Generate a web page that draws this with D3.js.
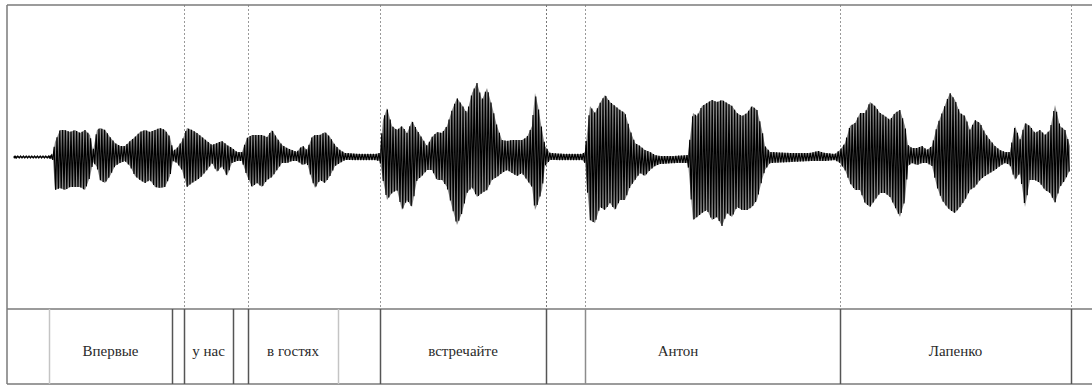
<!DOCTYPE html>
<html>
<head>
<meta charset="utf-8">
<script src="https://cdn.jsdelivr.net/npm/d3@7"></script>
<style>
  body { margin: 0; background: #fff; }
  svg { display: block; }
</style>
</head>
<body>
<div id="chart"></div>
<script>
// waveform envelope (time in s, amplitude in arbitrary units)
const envTime = [
  0.035, 0.21, 0.225, 0.235, 0.26, 0.285, 0.31, 0.335, 0.36, 0.385, 0.41, 0.425, 0.445, 0.46, 0.485,
  0.51, 0.535, 0.56, 0.585, 0.61, 0.635, 0.66, 0.685, 0.71, 0.735, 0.76, 0.785, 0.81, 0.825, 0.845,
  0.87, 0.895, 0.92, 0.945, 0.97, 0.995, 1.02, 1.045, 1.07, 1.095, 1.12, 1.145, 1.17, 1.195, 1.22,
  1.245, 1.27, 1.295, 1.32, 1.345, 1.37, 1.395, 1.42, 1.445, 1.46, 1.475, 1.495, 1.52, 1.535, 1.56,
  1.585, 1.61, 1.635, 1.66, 1.685, 1.76, 1.835, 1.86, 1.875, 1.895, 1.92, 1.945, 1.97, 1.995, 2.02,
  2.045, 2.07, 2.095, 2.12, 2.145, 2.17, 2.195, 2.22, 2.245, 2.27, 2.295, 2.32, 2.345, 2.37, 2.395,
  2.42, 2.445, 2.47, 2.495, 2.52, 2.545, 2.57, 2.595, 2.62, 2.635, 2.65, 2.67, 2.685, 2.71, 2.785,
  2.87, 2.885, 2.91, 2.935, 2.96, 2.985, 3.01, 3.035, 3.06, 3.085, 3.11, 3.135, 3.16, 3.185, 3.21,
  3.235, 3.26, 3.335, 3.4, 3.425, 3.445, 3.47, 3.495, 3.52, 3.545, 3.57, 3.595, 3.62, 3.645, 3.67,
  3.695, 3.72, 3.745, 3.77, 3.785, 3.81, 3.91, 4.01, 4.05, 4.085, 4.135, 4.16, 4.185, 4.21, 4.235,
  4.26, 4.285, 4.31, 4.335, 4.36, 4.385, 4.41, 4.435, 4.46, 4.485, 4.5, 4.52, 4.545, 4.57, 4.595,
  4.62, 4.645, 4.67, 4.695, 4.71, 4.735, 4.76, 4.785, 4.81, 4.835, 4.86, 4.885, 4.91, 4.935, 4.96,
  4.985, 5.01, 5.035, 5.06, 5.085, 5.11, 5.135, 5.16, 5.185, 5.21, 5.235, 5.26, 5.285, 5.31
];
const envUpper = [
  1, 1, 3, 15, 27, 27, 25, 27, 24, 27, 22, 6, 27, 29, 27,
  20, 14, 11, 11, 16, 20, 25, 27, 25, 27, 29, 27, 20, 6, 9,
  16, 29, 27, 24, 20, 16, 12, 14, 16, 12, 9, 5, 5, 19, 22,
  22, 22, 20, 27, 19, 12, 9, 7, 5, 9, 11, 7, 20, 22, 22,
  25, 20, 12, 7, 4, 3, 3, 4, 37, 49, 31, 27, 31, 24, 36,
  27, 19, 11, 20, 25, 24, 31, 47, 59, 52, 44, 64, 74, 57, 69,
  51, 31, 17, 16, 17, 17, 17, 20, 31, 64, 51, 27, 11, 4, 3,
  3, 5, 51, 44, 54, 62, 55, 51, 47, 44, 27, 14, 11, 7, 5,
  2, 1, 1, 2, 44, 41, 51, 54, 57, 55, 57, 54, 51, 44, 41,
  44, 51, 47, 27, 11, 5, 4, 4, 6, 4, 3, 7, 14, 31, 34,
  44, 44, 55, 51, 44, 41, 37, 44, 47, 31, 12, 9, 9, 11, 7,
  11, 31, 44, 57, 64, 57, 44, 41, 27, 37, 34, 24, 17, 11, 7,
  5, 5, 31, 17, 34, 31, 24, 27, 22, 27, 52, 31, 27, 11
];
const envLower = [
  1, 1, 3, 33, 31, 33, 30, 30, 30, 33, 20, 5, 10, 23, 26,
  19, 9, 6, 4, 9, 19, 23, 26, 23, 30, 31, 30, 19, 4, 6,
  13, 30, 26, 23, 19, 13, 6, 15, 9, 19, 6, 4, 4, 19, 30,
  26, 30, 23, 20, 13, 6, 6, 4, 4, 6, 8, 6, 23, 31, 23,
  26, 19, 9, 6, 3, 3, 3, 4, 23, 43, 36, 33, 53, 43, 50,
  23, 19, 13, 13, 23, 23, 30, 50, 68, 56, 36, 30, 40, 36, 33,
  23, 20, 16, 13, 16, 19, 16, 23, 30, 53, 46, 33, 9, 3, 3,
  3, 6, 63, 66, 50, 53, 46, 53, 43, 43, 30, 23, 16, 19, 13,
  9, 7, 6, 6, 63, 60, 56, 53, 63, 60, 69, 56, 60, 50, 53,
  53, 50, 43, 23, 13, 6, 5, 4, 4, 4, 3, 6, 13, 26, 33,
  33, 46, 50, 43, 36, 36, 40, 50, 60, 43, 9, 6, 8, 6, 6,
  9, 30, 43, 50, 53, 56, 50, 43, 33, 30, 23, 19, 16, 13, 9,
  6, 8, 23, 16, 50, 23, 23, 26, 33, 36, 46, 30, 23, 13
];

// annotation tier
const tierBounds = [0.205, 0.82, 0.88, 1.125, 1.20, 1.65, 1.86, 2.69, 2.885, 4.16, 5.315];
const tierBoundTone = ["light", "dark", "dark", "dark", "dark", "light", "dark", "dark", "mid", "dark", "dark"];
const dashedBounds = [0.88, 1.20, 1.86, 2.69, 2.885, 4.16, 5.315];
const words = ["Впервые", "у нас", "в гостях", "встречайте", "Антон", "Лапенко"];
const wordTimes = [0.5125, 1.0025, 1.425, 2.275, 3.35, 4.7375];

const width = 1092, height = 385;
const frameLeft = 7, frameTop = 5, waveBottom = 309, frameBottom = 384;

const svg = d3.select("#chart").append("svg")
  .attr("width", width)
  .attr("height", height);

const x = d3.scaleLinear().domain([0, 5.395]).range([8, 1087]);
const y = d3.scaleLinear().domain([-152, 152]).range([waveBottom, frameTop]);

// dashed boundaries in the waveform panel
svg.append("g")
  .selectAll("line")
  .data(dashedBounds)
  .join("line")
  .attr("x1", d => Math.round(x(d)) + 0.5)
  .attr("x2", d => Math.round(x(d)) + 0.5)
  .attr("y1", frameTop)
  .attr("y2", waveBottom)
  .attr("stroke", (d, i) => i === 3 ? "#777" : "#999")
  .attr("stroke-width", 1)
  .attr("stroke-dasharray", "2,2");

const env = envTime.map((t, i) => ({ t: t, up: envUpper[i], lo: envLower[i] }));

// grey outer envelope
svg.append("path")
  .datum(env)
  .attr("fill", "#8a8a8a")
  .attr("d", d3.area()
    .x(d => x(d.t))
    .y0(d => y(-d.lo))
    .y1(d => y(d.up)));

// black trace drawn as a fast oscillation that swings between the two envelopes
const upAt = d3.scaleLinear().domain(envTime).range(envUpper);
const loAt = d3.scaleLinear().domain(envTime).range(envLower);
const step = x.invert(x(0) + 1.4) - x.invert(x(0)); // about 1.4 px per half swing
const trace = [];
let flip = 1;
for (let t = envTime[0]; t <= envTime[envTime.length - 1]; t += step) {
  trace.push({ t: t, a: flip > 0 ? upAt(t) : -loAt(t) });
  flip = -flip;
}
svg.append("path")
  .datum(trace)
  .attr("fill", "none")
  .attr("stroke", "#000")
  .attr("stroke-width", 1.2)
  .attr("d", d3.line()
    .x(d => x(d.t))
    .y(d => y(d.a)));

// small end marks of the leading silence
svg.append("g")
  .selectAll("circle")
  .data([envTime[0], envTime[1]])
  .join("circle")
  .attr("cx", d => x(d))
  .attr("cy", y(0))
  .attr("r", 1.6)
  .attr("fill", "#000");

// frame
const frame = svg.append("g").attr("stroke", "#7a7a7a").attr("stroke-width", 1.5);
frame.append("line").attr("x1", frameLeft).attr("x2", width).attr("y1", frameTop).attr("y2", frameTop);
frame.append("line").attr("x1", frameLeft).attr("x2", frameLeft).attr("y1", frameTop).attr("y2", frameBottom);
frame.append("line").attr("x1", frameLeft).attr("x2", width).attr("y1", waveBottom).attr("y2", waveBottom);
frame.append("line").attr("x1", frameLeft).attr("x2", width).attr("y1", frameBottom).attr("y2", frameBottom);

// tier boundaries
const toneColor = { light: "#c4c4c4", mid: "#8c8c8c", dark: "#555" };
svg.append("g")
  .selectAll("line")
  .data(tierBounds)
  .join("line")
  .attr("x1", d => Math.round(x(d)) + 0.5)
  .attr("x2", d => Math.round(x(d)) + 0.5)
  .attr("y1", waveBottom)
  .attr("y2", frameBottom)
  .attr("stroke", (d, i) => toneColor[tierBoundTone[i]])
  .attr("stroke-width", 1.5);

// word labels
svg.append("g")
  .selectAll("text")
  .data(words)
  .join("text")
  .attr("x", (d, i) => x(wordTimes[i]))
  .attr("y", 356)
  .attr("text-anchor", "middle")
  .attr("font-family", "'Liberation Serif', 'DejaVu Serif', serif")
  .attr("font-size", 15)
  .attr("fill", "#2a2a2a")
  .text(d => d);
</script>
</body>
</html>
